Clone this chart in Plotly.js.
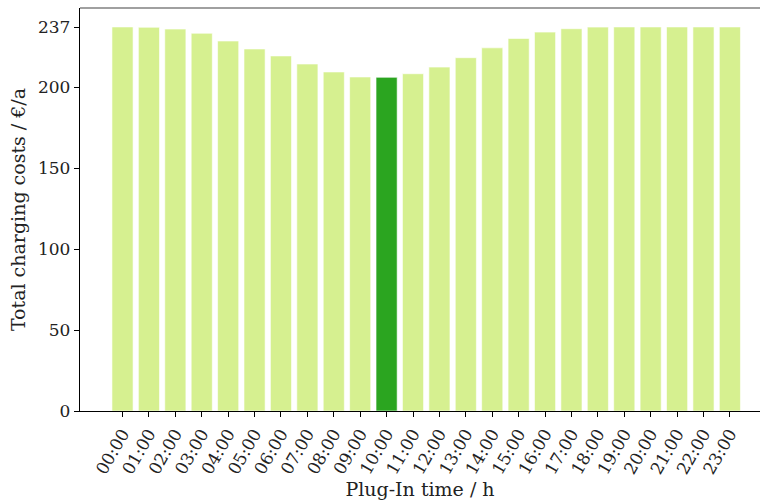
<!DOCTYPE html>
<html>
<head>
<meta charset="utf-8">
<script src="https://cdn.plot.ly/plotly-3.0.1.min.js"></script>
<style>
  html, body { margin: 0; padding: 0; background: #fff; }
  #chart { width: 760px; height: 504px; }
</style>
</head>
<body>
<div id="chart"></div>
<script>
// Plug-in hour of the day
const hours = ["00:00","01:00","02:00","03:00","04:00","05:00","06:00","07:00",
               "08:00","09:00","10:00","11:00","12:00","13:00","14:00","15:00",
               "16:00","17:00","18:00","19:00","20:00","21:00","22:00","23:00"];

// Total yearly charging costs (€/a) for each plug-in hour
const costs = [237.2, 237.0, 235.9, 233.3, 228.5, 223.6, 219.3, 214.3,
               209.4, 206.3, 206.1, 208.3, 212.4, 218.2, 224.3, 230.1,
               234.0, 236.1, 237.1, 237.2, 237.2, 237.2, 237.2, 237.2];

// Y-axis ticks, including the maximum cost
const yTicks = [0, 50, 100, 150, 200, 237];

const lightGreen = "#d6f090";
const darkGreen = "#2ba520";

// The cheapest plug-in hour is highlighted
const minCost = Math.min(...costs);
const barColors = costs.map(c => c === minCost ? darkGreen : lightGreen);

const serif = "DejaVu Serif, Liberation Serif, serif";
const textColor = "#222";

const trace = {
  type: "bar",
  x: hours,
  y: costs,
  width: 0.8,
  marker: {
    color: barColors,
    line: { color: "rgba(255,255,255,0.6)", width: 1 }
  },
  hoverinfo: "x+y"
};

const layout = {
  width: 760,
  height: 504,
  margin: { l: 80, r: 0, t: 8, b: 93 },
  paper_bgcolor: "#ffffff",
  plot_bgcolor: "#ffffff",
  showlegend: false,
  font: { family: serif, size: 17, color: textColor },
  xaxis: {
    type: "category",
    range: [-1.61, 24.14],
    showgrid: false,
    zeroline: false,
    showline: true,
    linecolor: "#000",
    linewidth: 1.2,
    ticks: "outside",
    ticklen: 5,
    tickwidth: 1,
    tickcolor: "#000",
    tickangle: -60,
    tickfont: { family: serif, size: 17, color: textColor },
    title: { text: "Plug-In time / h", font: { family: serif, size: 19, color: textColor }, standoff: 4 }
  },
  yaxis: {
    range: [0, 248.9],
    tickvals: yTicks,
    ticktext: yTicks.map(String),
    showgrid: false,
    zeroline: false,
    showline: true,
    linecolor: "#000",
    linewidth: 1.2,
    ticks: "outside",
    ticklen: 5,
    tickwidth: 1,
    tickcolor: "#000",
    tickfont: { family: serif, size: 17, color: textColor },
    title: { text: "Total charging costs / €/a", font: { family: serif, size: 19, color: textColor }, standoff: 7 }
  },
  shapes: [
    {
      type: "line", xref: "paper", yref: "paper",
      x0: 0, x1: 1, y0: 1, y1: 1,
      line: { color: "#808080", width: 1.5 }
    }
  ]
};

Plotly.newPlot("chart", [trace], layout, { displayModeBar: false, staticPlot: true });
</script>
</body>
</html>
